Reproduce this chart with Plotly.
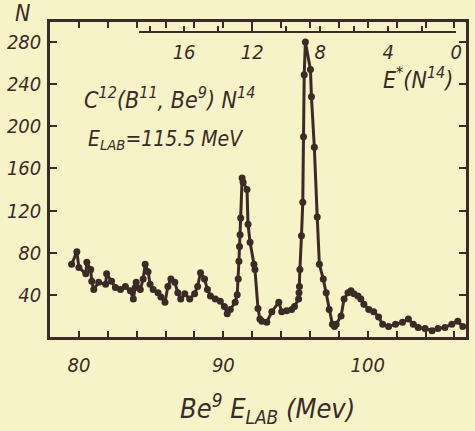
import plotly.graph_objects as go

# Data (Be9 lab energy in MeV, counts N)
energy = [79.5, 79.86, 80.0, 80.48, 80.55, 80.82, 80.89, 81.03, 81.37, 81.85, 81.92,
          82.26, 82.53, 82.88, 83.22, 83.56, 83.77, 83.9, 83.97, 84.25, 84.45, 84.59,
          84.79, 84.93, 85.14, 85.48, 85.68, 85.96, 86.16, 86.37, 86.64, 86.85, 87.05,
          87.33, 87.67, 88.01, 88.22, 88.42, 88.7, 88.9, 89.11, 89.45, 89.79, 90.07,
          90.27, 90.48, 90.82, 90.96, 91.03, 91.08, 91.12, 91.16, 91.2, 91.3, 91.37,
          91.64, 91.71, 91.85, 92.12, 92.19, 92.4, 92.53, 92.67, 93.01, 93.36, 93.84,
          94.04, 94.38, 94.73, 94.93, 95.21, 95.24, 95.27, 95.3, 95.41, 95.5, 95.55,
          95.6, 95.68, 96.03, 96.1, 96.3, 96.5, 96.65, 96.92, 97.12, 97.33, 97.55,
          97.7, 97.81, 98.15, 98.36, 98.63, 98.84, 99.04, 99.32, 99.52, 99.73, 100.07,
          100.41, 100.75, 101.03, 101.44, 101.92, 102.4, 102.81, 103.15, 103.49,
          103.97, 104.45, 104.86, 105.34, 105.82, 106.23, 106.58]
counts = [69, 81, 66, 60, 71, 64, 53, 45, 52, 50, 60,
          53, 47, 45, 48, 44, 36, 47, 52, 45, 55, 69,
          62, 50, 45, 42, 38, 33, 48, 55, 52, 42, 36,
          41, 36, 41, 48, 61, 55, 45, 39, 36, 34, 29,
          22, 26, 33, 40, 55, 72, 86, 97, 113, 151, 147,
          140, 107, 90, 69, 64, 27, 17, 15, 14, 24, 33,
          24, 25, 26, 29, 36, 42, 48, 64, 96, 128, 190,
          249, 280, 254, 228, 180, 114, 69, 55, 42, 26, 12,
          10, 12, 20, 36, 42, 44, 41, 39, 36, 31, 26,
          24, 19, 12, 10, 12, 14, 17, 12, 9,
          8, 6, 8, 9, 12, 15, 10]

x_ticks = [80, 82, 84, 86, 88, 90, 92, 94, 96, 98, 100, 102, 104, 106]
x_labels = ["80", "", "", "", "", "90", "", "", "", "", "100", "", "", ""]
y_ticks = [40, 80, 120, 160, 200, 240, 280]
y_labels = ["40", "80", "120", "160", "200", "240", "280"]
ex_ticks = [0, 2, 4, 6, 8, 10, 12, 14, 16, 18]
ex_labels = ["0", "", "4", "", "8", "", "12", "", "16", ""]

INK = "#3a2b26"
BG = "#f7f3c9"
FONT = "DejaVu Sans Condensed, Liberation Sans Narrow, DejaVu Sans, sans-serif"

W, H = 475, 431
ML, MR, MT, MB = 50, 3, 22, 94
PW, PH = W - ML - MR, H - MT - MB


def fx(px):
    return (px - ML) / PW


def fy(py):
    return (H - MB - py) / PH


fig = go.Figure()
# invisible trace to activate the E* axis (drawn first, underneath)
fig.add_trace(go.Scatter(x=[0, 18], y=[0, 0], xaxis="x2", yaxis="y", mode="markers",
                         marker=dict(opacity=0), showlegend=False, hoverinfo="skip"))
fig.add_trace(go.Scatter(
    x=energy, y=counts, mode="lines+markers",
    line=dict(color=INK, width=3),
    marker=dict(color=INK, size=7),
    showlegend=False, cliponaxis=True,
))

tickfont = dict(size=20, family=FONT, style="italic", color=INK)
fig.update_layout(
    width=W, height=H,
    margin=dict(l=ML, r=MR, t=MT, b=MB),
    paper_bgcolor=BG, plot_bgcolor="rgba(0,0,0,0)",
    font=dict(family=FONT, color=INK),
    xaxis=dict(range=[78, 106.8], tickvals=x_ticks, ticktext=x_labels,
               ticks="inside", ticklen=6, tickwidth=2, tickcolor=INK,
               showline=True, linecolor=INK, linewidth=2.5, mirror="ticks",
               showgrid=False, zeroline=False, ticklabelstandoff=8,
               tickfont=tickfont),
    yaxis=dict(range=[0, 299], tickvals=y_ticks, ticktext=y_labels,
               ticks="inside", ticklen=7, tickwidth=2, tickcolor=INK,
               showline=True, linecolor=INK, linewidth=2.5, mirror="ticks",
               showgrid=False, zeroline=False, ticklabelstandoff=2,
               tickfont=tickfont),
    xaxis2=dict(side="bottom", anchor="free", position=fy(32),
                domain=[fx(140), fx(462)], range=[18.67, 0],
                tickvals=ex_ticks, ticktext=ex_labels,
                ticks="inside", ticklen=5, tickwidth=2, tickcolor=INK,
                showline=True, linecolor=INK, linewidth=2,
                showgrid=False, zeroline=False, ticklabelstandoff=2,
                tickfont=tickfont),
)

ann = [
    dict(x=fx(22), y=fy(13), text="<i>N</i>", size=23),
    dict(x=fx(171), y=fy(98), text="<i>C<sup>12</sup>(B<sup>11</sup>, Be<sup>9</sup>) N<sup>14</sup></i>", size=23),
    dict(x=fx(168), y=fy(140), text="<i>E<sub>LAB</sub>=115.5 MeV</i>", size=21),
    dict(x=fx(423), y=fy(78), text="<i>E<sup>*</sup>(N<sup>14</sup>)</i>", size=23),
    dict(x=fx(271), y=fy(408), text="<i>Be<sup>9</sup> E<sub>LAB</sub> (Mev)</i>", size=27),
]
for a in ann:
    fig.add_annotation(x=a["x"], y=a["y"], xref="paper", yref="paper",
                       text=a["text"], showarrow=False,
                       font=dict(size=a["size"], family=FONT, color=INK),
                       xanchor="center", yanchor="middle")

fig.write_html("out.html", config={"displayModeBar": False},
               post_script="document.body.style.margin='0';")
